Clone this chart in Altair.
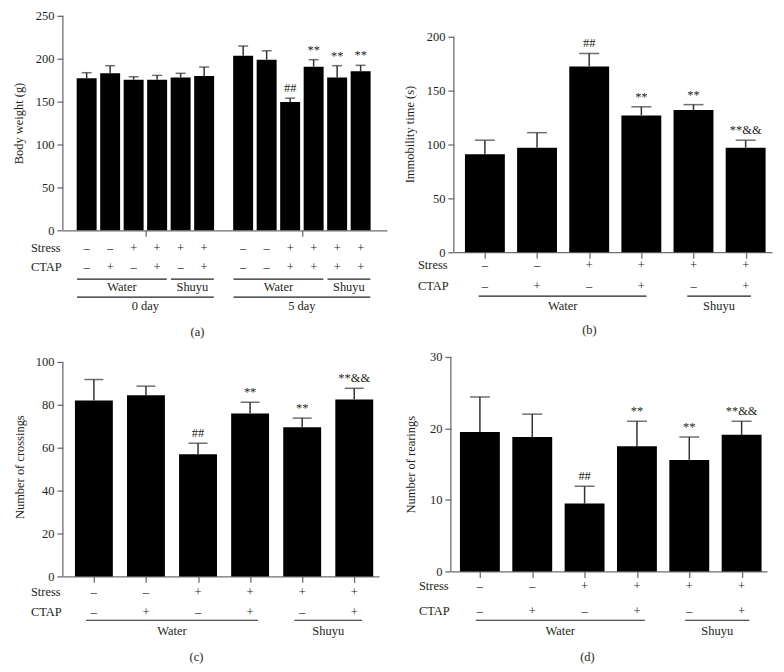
import altair as alt
import pandas as pd

FONT = "Liberation Serif"
TXT = "#231f20"
AX = "#6d6e71"
ERR = "#333333"
FS = 12.5
TOP = 0.999  # slight transparency keeps text antialiasing greyscale

# ---------------- data ----------------
# (a) body weight
a_stress = ["–", "–", "+", "+", "+", "+", "–", "–", "+", "+", "+", "+"]
a_ctap = ["–", "+", "–", "+", "–", "+", "–", "–", "+", "+", "+", "+"]
a_drink = ["Water", "Water", "Water", "Water", "Shuyu", "Shuyu",
           "Water", "Water", "Water", "Water", "Shuyu", "Shuyu"]
a_day = ["0 day"] * 6 + ["5 day"] * 6
a_mean = [177.2, 183.0, 175.6, 175.6, 178.0, 179.9, 203.5, 198.9, 149.6, 190.7, 178.0, 185.3]
a_sem = [6.5, 8.9, 3.4, 5.0, 5.0, 10.4, 11.3, 10.4, 4.4, 8.2, 13.9, 7.0]
a_sig = ["", "", "", "", "", "", "", "", "##", "**", "**", "**"]

# (b)-(d) share the same six groups
g_stress = ["–", "–", "+", "+", "+", "+"]
g_ctap = ["–", "+", "–", "+", "–", "+"]
g_drink = ["Water", "Water", "Water", "Water", "Shuyu", "Shuyu"]
g_sig = ["", "", "##", "**", "**", "**&&"]

b_mean = [91.0, 97.0, 172.5, 127.0, 132.0, 97.0]
b_sem = [13.0, 14.0, 12.0, 8.0, 5.0, 7.0]

c_mean = [82.0, 84.5, 57.0, 76.0, 69.5, 82.5]
c_sem = [9.8, 4.2, 5.1, 5.2, 4.3, 5.2]

d_mean = [19.5, 18.8, 9.5, 17.5, 15.6, 19.1]
d_sem = [4.9, 3.2, 2.4, 3.5, 3.2, 1.9]


def runs(labels):
    out, start = [], 0
    for i in range(1, len(labels) + 1):
        if i == len(labels) or labels[i] != labels[start]:
            out.append((start, i - 1, labels[start]))
            start = i
    return out


def one():
    return pd.DataFrame({"k": [0]})


def const_text(txt, x, y, align="center", size=FS):
    return alt.Chart(one()).mark_text(text=txt, font=FONT, fontSize=size, color=TXT,
                                      opacity=TOP, align=align, baseline="middle").encode(
        x=alt.value(x), y=alt.value(y))


def panel(pos, mean, sem, sig, stress, ctap, group_levels, ymax, yvals, ytitle,
          width, axis_h, head, xmax, bar_w, xticks, rows, tag, tag_x, frame, title_pad,
          label_x, ext):
    # axis_h: pixel height of the 0..ymax axis; head: extra empty pixels above it
    height = axis_h + head
    ytop = ymax * height / axis_h
    df = pd.DataFrame({"pos": pos, "mean": mean,
                       "upper": [m + s for m, s in zip(mean, sem)],
                       "sig": sig, "stress": stress, "ctap": ctap})
    xs = alt.Scale(domain=[0, xmax], nice=False, zero=False)
    ys = alt.Scale(domain=[0, ytop], nice=False)
    x = alt.X("pos:Q", scale=xs,
              axis=alt.Axis(values=xticks, labels=False, title=None, tickSize=6,
                            domainColor=AX, tickColor=AX, domainWidth=1.3, tickWidth=1.3))
    bars = alt.Chart(df).mark_bar(width=bar_w, color="#000000").encode(
        x=x,
        y=alt.Y("mean:Q", scale=ys,
                axis=alt.Axis(values=yvals, title=ytitle, format="d", tickSize=6,
                              titlePadding=title_pad, labelPadding=3, domain=False,
                              tickColor=AX, tickWidth=1.3)))
    yline = alt.Chart(one()).mark_rule(color=AX, strokeWidth=1.3).encode(
        x=alt.value(0), y=alt.datum(0), y2=alt.datum(ymax))
    err = alt.Chart(df).mark_rule(color=ERR, strokeWidth=1.5).encode(
        x="pos:Q", y="mean:Q", y2="upper:Q")
    cap = alt.Chart(df).mark_tick(orient="horizontal", size=bar_w / 2, thickness=1.5,
                                  color=ERR).encode(x="pos:Q", y="upper:Q")
    sigt = alt.Chart(df).mark_text(font=FONT, fontSize=FS, color=TXT, opacity=TOP,
                                   baseline="bottom", dy=-3).encode(
        x="pos:Q", y="upper:Q", text="sig:N")
    srow = alt.Chart(df).mark_text(font=FONT, fontSize=FS, color=TXT, opacity=TOP,
                                   baseline="middle").encode(
        x="pos:Q", y=alt.value(height + rows["stress"]), text="stress:N")
    crow = alt.Chart(df).mark_text(font=FONT, fontSize=FS, color=TXT, opacity=TOP,
                                   baseline="middle").encode(
        x="pos:Q", y=alt.value(height + rows["ctap"]), text="ctap:N")
    layers = [bars, yline, err, cap, sigt, srow, crow,
              const_text("Stress", label_x, height + rows["stress"], "left"),
              const_text("CTAP", label_x, height + rows["ctap"], "left")]
    for labels, line_off, text_off in group_levels:
        segs = runs(labels)
        ldf = pd.DataFrame({
            "x0": [pos[s] - ext[0] for s, e, l in segs],
            "x1": [pos[e] + ext[1] for s, e, l in segs],
            "lab": [l for s, e, l in segs]})
        ldf["mid"] = (ldf["x0"] + ldf["x1"]) / 2
        layers.append(alt.Chart(ldf).mark_rule(color=TXT, strokeWidth=1.1).encode(
            x="x0:Q", x2="x1:Q", y=alt.value(height + line_off)))
        layers.append(alt.Chart(ldf).mark_text(font=FONT, fontSize=FS, color=TXT,
                                               opacity=TOP, baseline="middle").encode(
            x="mid:Q", y=alt.value(height + text_off), text="lab:N"))
    layers.append(const_text(tag, tag_x, height + rows["tag"]))
    L, T, R, B = frame
    layers.append(alt.Chart(one()).mark_rect(opacity=0).encode(
        x=alt.value(L), x2=alt.value(R), y=alt.value(T), y2=alt.value(B)))
    return alt.layer(*layers).properties(width=width, height=height)


# row 1: plot tops at y=15; row 2: plot tops at y=357
a_pos = [0.8 + i for i in range(6)] + [7.46 + i for i in range(6)]
pa = panel(a_pos, a_mean, a_sem, a_sig, a_stress, a_ctap,
           [(a_drink, 49, 57), (a_day, 67, 76)],
           250, [0, 50, 100, 150, 200, 250], "Body weight (g)",
           325, 215, 0, 13.37, 20, [3.3, 9.96],
           {"stress": 18, "ctap": 37, "tag": 102}, "(a)", 135,
           (-53, -7, 331, 327), 10, -32, (0.41, 0.41))

b_pos = [0.5 + i for i in range(6)]
pb = panel(b_pos, b_mean, b_sem, g_sig, g_stress, g_ctap,
           [(g_drink, 44, 54)],
           200, [0, 50, 100, 150, 200], "Immobility time (s)",
           319, 216, 21, 5.91, 40, b_pos,
           {"stress": 13, "ctap": 34, "tag": 78}, "(b)", 136,
           (-61, -7, 323, 327), 10, -36, (0.12, 0.1))

c_pos = [0.5 + i for i in range(6)]
pc = panel(c_pos, c_mean, c_sem, g_sig, g_stress, g_ctap,
           [(g_drink, 44, 55)],
           100, [0, 20, 40, 60, 80, 100], "Number of crossings",
           317, 215, 5, 5.88, 38, c_pos,
           {"stress": 16, "ctap": 36, "tag": 81}, "(c)", 134,
           (-55, -15, 329, 311), 9, -32, (0.15, 0.15))

d_pos = [0.46 + i for i in range(6)]
pd_ = panel(d_pos, d_mean, d_sem, g_sig, g_stress, g_ctap,
            [(g_drink, 49, 60)],
            30, [0, 10, 20, 30], "Number of rearings",
            317, 215, 0, 5.85, 40, d_pos,
            {"stress": 15, "ctap": 40, "tag": 86}, "(d)", 137,
            (-60, -15, 324, 311), 12, -32, (0.08, 0.15))

row1 = alt.hconcat(pa, pb, spacing=0)
row2 = alt.hconcat(pc, pd_, spacing=0)
chart = alt.vconcat(row1, row2, spacing=0).properties(
    padding=0, background="white"
).configure_view(stroke=None).configure_axis(
    grid=False, labelFont=FONT, labelFontSize=FS, labelColor=TXT,
    titleFont=FONT, titleFontSize=FS, titleFontWeight="normal", titleColor=TXT)

chart.save("out.html", embed_options={"renderer": "svg", "actions": False})
